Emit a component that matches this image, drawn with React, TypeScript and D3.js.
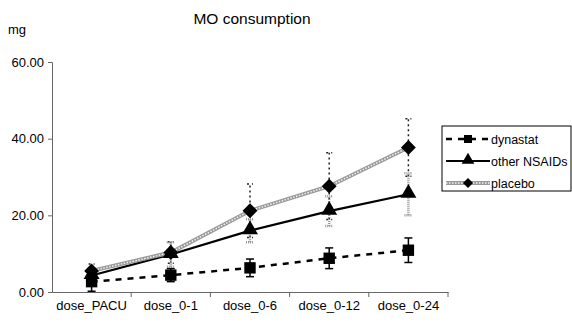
import * as d3 from "d3";
import { useEffect, useRef } from "react";

const categories = ["dose_PACU", "dose_0-1", "dose_0-6", "dose_0-12", "dose_0-24"];
const dynastat = [2.7, 4.4, 6.3, 8.8, 10.9];
const dynastatErr = [2.5, 1.7, 2.3, 2.7, 3.2];
const nsaids = [4.3, 9.8, 16.0, 21.1, 25.5];
const nsaidsErr = [1.5, 3.2, 3.0, 3.9, 5.5];
const placebo = [5.5, 10.3, 21.2, 27.6, 37.7];
const placeboErr = [1.8, 2.8, 7.0, 8.7, 7.5];
const yTicks = [0, 20, 40, 60];
const legendLabels = ["dynastat", "other NSAIDs", "placebo"];

export default function App() {
  const ref = useRef<SVGSVGElement | null>(null);

  useEffect(() => {
    if (!ref.current) return;
    const svg = d3.select(ref.current);
    svg.selectAll("*").remove();

    const W = 572;
    const H = 323;
    const font = "Liberation Sans, Arial, sans-serif";
    const left = 52;
    const right = 448;
    const top = 62;
    const bottom = 292;

    const x = d3.scaleBand().domain(categories).range([left, right]);
    const y = d3.scaleLinear().domain([0, 60]).range([bottom, top]);
    const cx = (i: number) => x(categories[i])! + x.bandwidth() / 2;

    svg.attr("width", W).attr("height", H).style("font-family", font);

    // title
    svg.append("text").attr("x", 252).attr("y", 24).attr("text-anchor", "middle")
      .style("font-size", "15.5px").text("MO consumption");
    svg.append("text").attr("x", 8).attr("y", 34).style("font-size", "13px").text("mg");

    // y axis
    const yAxis = svg.append("g").attr("transform", `translate(${left},0)`)
      .call(d3.axisLeft(y).tickValues(yTicks).tickSize(4).tickPadding(4).tickFormat((d) => (d as number).toFixed(2)));
    yAxis.select(".domain").attr("stroke", "#666");
    yAxis.selectAll(".tick line").attr("stroke", "#666");
    yAxis.selectAll("text").style("font-size", "13px").style("font-family", font).attr("fill", "#000");

    // x axis
    const xAxis = svg.append("g").attr("transform", `translate(0,${bottom})`)
      .call(d3.axisBottom(x).tickSize(0).tickPadding(9));
    xAxis.select(".domain").attr("stroke", "#666");
    xAxis.selectAll("text").style("font-size", "13px").style("font-family", font).attr("fill", "#000");
    const bounds = categories.map((c) => x(c)!).concat([right]).slice(1);
    xAxis.selectAll(".bt").data(bounds).enter().append("line")
      .attr("x1", (d) => d).attr("x2", (d) => d).attr("y1", 0).attr("y2", 5).attr("stroke", "#666");

    const line = d3.line<number>().x((_, i) => cx(i)).y((d) => y(d));
    const g = svg.append("g");

    // error bars
    const errBars = (vals: number[], errs: number[], style: (s: any) => void, cap: number) => {
      vals.forEach((v, i) => {
        const eg = g.append("g");
        eg.append("line").attr("x1", cx(i)).attr("x2", cx(i)).attr("y1", y(v - errs[i])).attr("y2", y(v + errs[i])).call(style);
        [v - errs[i], v + errs[i]].forEach((e) => {
          eg.append("line").attr("x1", cx(i) - cap).attr("x2", cx(i) + cap).attr("y1", y(e)).attr("y2", y(e)).call(style);
        });
      });
    };
    errBars(placebo, placeboErr, (s) => s.attr("stroke", "#222").attr("stroke-width", 1.5).attr("stroke-dasharray", "2,3"), 3);
    errBars(nsaids, nsaidsErr, (s) => s.attr("stroke", "#999").attr("stroke-width", 2.5).attr("stroke-dasharray", "1,1"), 4);
    errBars(dynastat, dynastatErr, (s) => s.attr("stroke", "#000").attr("stroke-width", 1.5), 4);

    // lines
    g.append("path").datum(dynastat).attr("d", line).attr("fill", "none").attr("stroke", "#000")
      .attr("stroke-width", 2.5).attr("stroke-dasharray", "6,6");
    g.append("path").datum(nsaids).attr("d", line).attr("fill", "none").attr("stroke", "#000").attr("stroke-width", 2.2);
    g.append("path").datum(placebo).attr("d", line).attr("fill", "none").attr("stroke", "#999").attr("stroke-width", 4);
    g.append("path").datum(placebo).attr("d", line).attr("fill", "none").attr("stroke", "#f4f4f4")
      .attr("stroke-width", 1.5).attr("stroke-dasharray", "1.5,1.5");

    // markers
    const sq = d3.symbol().type(d3.symbolSquare).size(130);
    const tri = d3.symbol().type(d3.symbolTriangle).size(110);
    const dia = d3.symbol().type(d3.symbolSquare).size(110);
    const markers = (vals: number[], sym: any, dy = 0, rot = 0) => {
      g.selectAll(null).data(vals).enter().append("path")
        .attr("d", sym).attr("transform", (d, i) => `translate(${cx(i)},${y(d) + dy}) rotate(${rot})`).attr("fill", "#000");
    };
    markers(dynastat, sq());
    markers(nsaids, tri(), -1);
    markers(placebo, dia(), 0, 45);

    // legend
    const lg = svg.append("g").attr("transform", "translate(442,126)");
    lg.append("rect").attr("x", 0).attr("y", 0).attr("width", 129).attr("height", 65)
      .attr("fill", "#fff").attr("stroke", "#000").attr("stroke-width", 1);
    [0, 1, 2].forEach((r) => {
      const yy = 13 + r * 22;
      const a = 4, b = 48, m = 26;
      if (r === 0) {
        lg.append("line").attr("x1", a).attr("x2", b).attr("y1", yy).attr("y2", yy).attr("stroke", "#000")
          .attr("stroke-width", 2.5).attr("stroke-dasharray", "6,6");
        lg.append("path").attr("d", d3.symbol().type(d3.symbolSquare).size(64)()!).attr("transform", `translate(${m},${yy})`);
      } else if (r === 1) {
        lg.append("line").attr("x1", a).attr("x2", b).attr("y1", yy).attr("y2", yy).attr("stroke", "#000").attr("stroke-width", 2);
        lg.append("path").attr("d", d3.symbol().type(d3.symbolTriangle).size(70)()!).attr("transform", `translate(${m},${yy - 1})`);
      } else {
        lg.append("line").attr("x1", a).attr("x2", b).attr("y1", yy).attr("y2", yy).attr("stroke", "#999").attr("stroke-width", 4);
        lg.append("line").attr("x1", a).attr("x2", b).attr("y1", yy).attr("y2", yy).attr("stroke", "#f4f4f4")
          .attr("stroke-width", 1.5).attr("stroke-dasharray", "1.5,1.5");
        lg.append("path").attr("d", d3.symbol().type(d3.symbolSquare).size(50)()!).attr("transform", `translate(${m},${yy}) rotate(45)`);
      }
      lg.append("text").attr("x", 49).attr("y", yy + 5).style("font-size", "12.5px").text(legendLabels[r]);
    });
  }, []);

  return <svg ref={ref} style={{ position: "absolute", left: 0, top: 0 }} />;
}
